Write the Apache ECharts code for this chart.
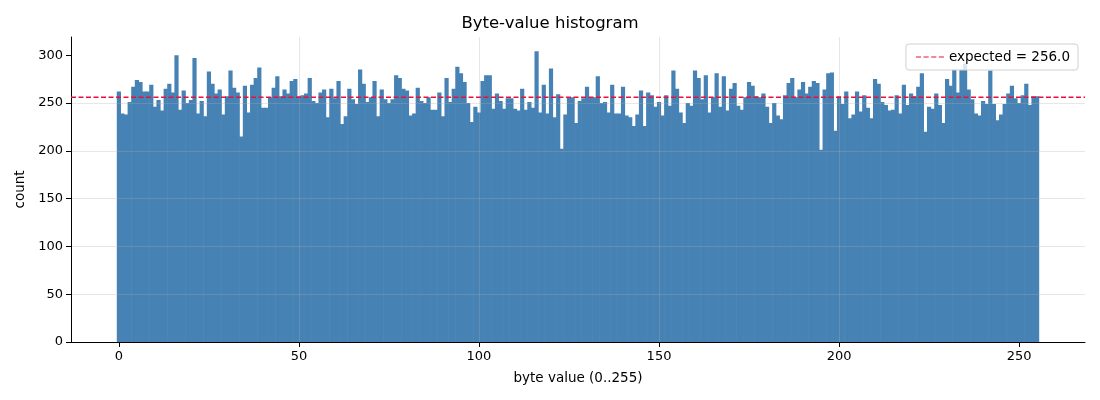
<!DOCTYPE html>
<html>
<head>
<meta charset="utf-8">
<script src="https://cdn.jsdelivr.net/npm/echarts@6/dist/echarts.min.js"></script>
<style>
  html, body { margin: 0; padding: 0; background: #fff; }
  #main { width: 1100px; height: 400px; }
</style>
</head>
<body>
<div id="main"></div>
<script>
// count of each byte value 0..255
const counts = [
  262, 239, 238, 251, 267, 274, 272, 262, 262, 269, 246, 253, 242, 265, 270, 261, 300, 243, 263, 250, 253, 297,
  239, 252, 236, 283, 270, 260, 264, 238, 257, 284, 266, 261, 215, 268, 240, 269, 276, 287, 245, 245, 256, 266,
  278, 257, 264, 260, 273, 275, 257, 258, 260, 276, 252, 250, 261, 264, 235, 265, 255, 273, 228, 236, 265, 254,
  249, 285, 270, 251, 256, 273, 236, 264, 254, 250, 254, 279, 276, 265, 263, 237, 239, 266, 252, 250, 256, 243,
  243, 261, 236, 276, 251, 265, 288, 281, 272, 250, 230, 246, 240, 273, 279, 279, 244, 260, 252, 244, 255, 255,
  244, 242, 265, 243, 251, 245, 304, 240, 269, 239, 286, 235, 259, 202, 238, 256, 256, 229, 252, 255, 267, 256,
  256, 278, 250, 251, 240, 269, 239, 239, 267, 237, 235, 226, 238, 263, 226, 261, 258, 246, 251, 237, 258, 247,
  284, 265, 240, 229, 250, 247, 284, 276, 254, 279, 240, 256, 281, 246, 278, 242, 265, 271, 247, 243, 256, 272,
  268, 257, 256, 260, 246, 229, 250, 237, 233, 258, 271, 276, 256, 264, 272, 260, 267, 273, 271, 201, 264, 281,
  282, 221, 257, 249, 262, 234, 238, 262, 241, 258, 245, 234, 275, 270, 251, 248, 242, 243, 258, 239, 269, 248,
  260, 257, 267, 281, 220, 246, 244, 260, 248, 229, 275, 268, 285, 261, 285, 291, 264, 254, 239, 237, 252, 249,
  284, 249, 232, 238, 249, 260, 268, 255, 250, 258, 270, 248, 257, 257
];
const expected = 256.0;
const xTicks = [0, 50, 100, 150, 200, 250];
const yTicks = [0, 50, 100, 150, 200, 250, 300];

const X_MIN = -13.3, X_MAX = 268.3;
const FONT = 'DejaVu Sans';
const GRID_COLOR = 'rgba(176,176,176,0.3)';
const RED = '#e8103c';

const barData = counts.map((c, i) => [i, c]);

const chart = echarts.init(document.getElementById('main'));
chart.setOption({
  animation: false,
  textStyle: { fontFamily: FONT, color: '#000' },
  title: {
    text: 'Byte-value histogram',
    left: 'center',
    top: 15,
    padding: 0,
    textStyle: { fontFamily: FONT, fontSize: 16.5, fontWeight: 'normal', color: '#000' }
  },
  legend: {
    right: 22,
    top: 44,
    orient: 'vertical',
    padding: [6, 8, 6, 10],
    itemWidth: 28,
    itemHeight: 2,
    itemGap: 8,
    borderColor: '#d0d0d0',
    borderWidth: 1,
    borderRadius: 3,
    backgroundColor: 'rgba(255,255,255,0.8)',
    textStyle: { fontFamily: FONT, fontSize: 13.5, color: '#000' },
    data: [{
      name: 'expected = 256.0',
      // four short dashes, like the line itself
      icon: 'path://M0,0h5v1h-5z M7.5,0h5v1h-5z M15,0h5v1h-5z M22.5,0h5v1h-5z'
    }]
  },
  grid: { left: 71, right: 15, top: 37, bottom: 58, outerBoundsMode: 'none' },
  xAxis: {
    type: 'value',
    min: X_MIN,
    max: X_MAX,
    z: 3,
    name: 'byte value (0..255)',
    nameLocation: 'middle',
    nameGap: 29,
    nameTextStyle: { fontFamily: FONT, fontSize: 13.5, color: '#000' },
    axisLine: { show: true, onZero: false, lineStyle: { color: '#000', width: 1 } },
    axisTick: { show: true, length: 5, customValues: xTicks, lineStyle: { color: '#000' } },
    axisLabel: { customValues: xTicks, fontFamily: FONT, fontSize: 13, color: '#000', margin: 8 },
    splitLine: { show: true, showMinLine: false, showMaxLine: false,
                 lineStyle: { color: GRID_COLOR, width: 1 } }
  },
  yAxis: {
    type: 'value',
    min: 0,
    max: 319,
    interval: 50,
    z: 3,
    name: 'count',
    nameLocation: 'middle',
    nameGap: 41,
    nameRotate: 90,
    nameTextStyle: { fontFamily: FONT, fontSize: 13.5, color: '#000' },
    axisLine: { show: true, onZero: false, lineStyle: { color: '#000', width: 1 } },
    axisTick: { show: true, length: 5, customValues: yTicks, lineStyle: { color: '#000' } },
    axisLabel: { customValues: yTicks, fontFamily: FONT, fontSize: 13, color: '#000', margin: 8 },
    splitLine: { show: true, showMinLine: false, showMaxLine: false,
                 lineStyle: { color: GRID_COLOR, width: 1 } }
  },
  series: [
    {
      name: 'counts',
      type: 'custom',
      z: 2,
      data: barData,
      encode: { x: 0, y: 1 },
      renderItem: function (params, api) {
        const x = api.value(0);
        const v = api.value(1);
        const p0 = api.coord([x - 0.5, v]);
        const p1 = api.coord([x + 0.5, 0]);
        // a little overlap so no light seams show between neighbours
        return {
          type: 'rect',
          shape: { x: p0[0] - 0.3, y: p0[1], width: p1[0] - p0[0] + 0.6, height: p1[1] - p0[1] },
          style: { fill: '#4682b4' }
        };
      }
    },
    {
      name: 'expected = 256.0',
      type: 'line',
      z: 5,
      symbol: 'none',
      data: [[X_MIN, expected], [X_MAX, expected]],
      lineStyle: { color: RED, width: 1.6, type: [5, 2.5] },
      itemStyle: { color: RED }
    }
  ]
});
</script>
</body>
</html>
